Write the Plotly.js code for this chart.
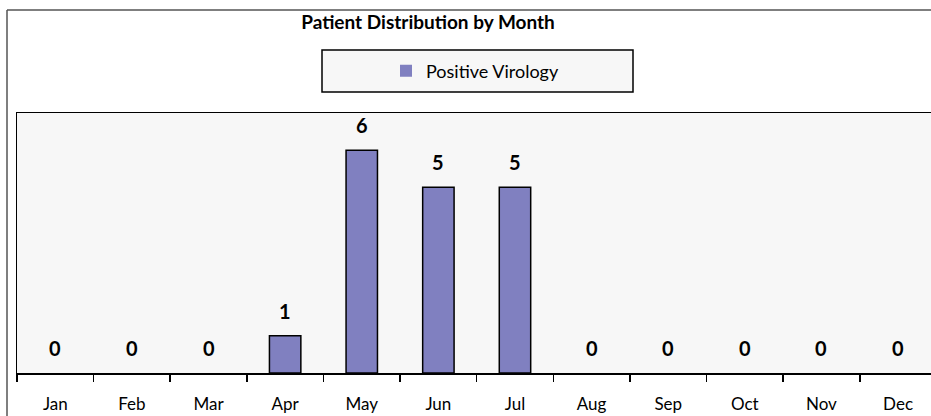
<!DOCTYPE html>
<html>
<head>
<meta charset="utf-8">
<script src="https://cdn.plot.ly/plotly-3.0.1.min.js"></script>
<style>
html,body{margin:0;padding:0;overflow:hidden;background:#fff;}
#chart{width:931px;height:416px;}
</style>
</head>
<body>
<div id="chart"></div>
<script>
const months = ["Jan","Feb","Mar","Apr","May","Jun","Jul","Aug","Sep","Oct","Nov","Dec"];
const positiveVirology = [0,0,0,1,6,5,5,0,0,0,0,0];
const seriesName = "Positive Virology";
const chartTitle = "Patient Distribution by Month";

const FONT = "Lato, 'Open Sans', sans-serif";
const W = 931, H = 416;
const mL = 17, mR = 0, mT = 113, mB = 43;
const pw = W - mL - mR, ph = H - mT - mB;
const px = x => (x - mL) / pw;
const py = y => (H - mB - y) / ph;

const trace = {
  type: "bar",
  x: months,
  y: positiveVirology,
  name: seriesName,
  width: 0.41,
  marker: {
    color: "#8080C0",
    line: {color: "#000", width: positiveVirology.map(v => v === 0 ? 0 : 1.5)}
  },
  hoverinfo: "skip"
};

const labels = months.map((m, i) => ({
  x: m, y: positiveVirology[i], xref: "x", yref: "y",
  text: "<b>" + positiveVirology[i] + "</b>",
  showarrow: false, yanchor: "middle", yshift: 25,
  font: {family: FONT, size: 20, color: "#000"}
}));

const layout = {
  width: W, height: H,
  margin: {l: mL, r: mR, t: mT, b: mB, pad: 0},
  paper_bgcolor: "#fff",
  plot_bgcolor: "#F7F7F7",
  font: {family: FONT, color: "#000"},
  title: {
    text: "<b>" + chartTitle + "</b>",
    font: {family: FONT, size: 19, color: "#000"},
    xref: "paper", x: px(428), xanchor: "center",
    yref: "container", y: 1 - 22/H, yanchor: "middle"
  },
  showlegend: true,
  legend: {
    orientation: "h",
    xref: "paper", yref: "paper",
    x: px(386), xanchor: "left",
    y: py(71), yanchor: "middle",
    bgcolor: "rgba(0,0,0,0)",
    borderwidth: 0,
    font: {family: FONT, size: 18, color: "#000"}
  },
  xaxis: {
    type: "category",
    range: [-0.5, 11.43],
    showline: true, linecolor: "#000", linewidth: 1.5, mirror: true,
    ticks: "outside", ticklen: 7, tickwidth: 1.5, tickcolor: "#000",
    tickson: "boundaries",
    ticklabelstandoff: 15,
    tickfont: {family: FONT, size: 17, color: "#000"},
    showgrid: false, zeroline: false, fixedrange: true
  },
  yaxis: {
    range: [0, 7],
    showline: true, linecolor: "#000", linewidth: 1.5, mirror: false,
    showticklabels: false, ticks: "",
    showgrid: false, zeroline: false, fixedrange: true
  },
  annotations: labels,
  shapes: [
    {type: "line", xref: "paper", yref: "paper", layer: "below",
     x0: px(7), x1: px(940), y0: py(10), y1: py(10),
     line: {color: "#555", width: 1.5}},
    {type: "line", xref: "paper", yref: "paper", layer: "below",
     x0: px(7), x1: px(7), y0: py(10), y1: py(430),
     line: {color: "#555", width: 1.5}},
    {type: "rect", xref: "paper", yref: "paper", layer: "below",
     x0: px(322), x1: px(633), y0: py(92), y1: py(50),
     line: {color: "#000", width: 1.5}, fillcolor: "#F7F7F7"}
  ]
};

Plotly.newPlot("chart", [trace], layout, {staticPlot: true, displayModeBar: false});
</script>
</body>
</html>
